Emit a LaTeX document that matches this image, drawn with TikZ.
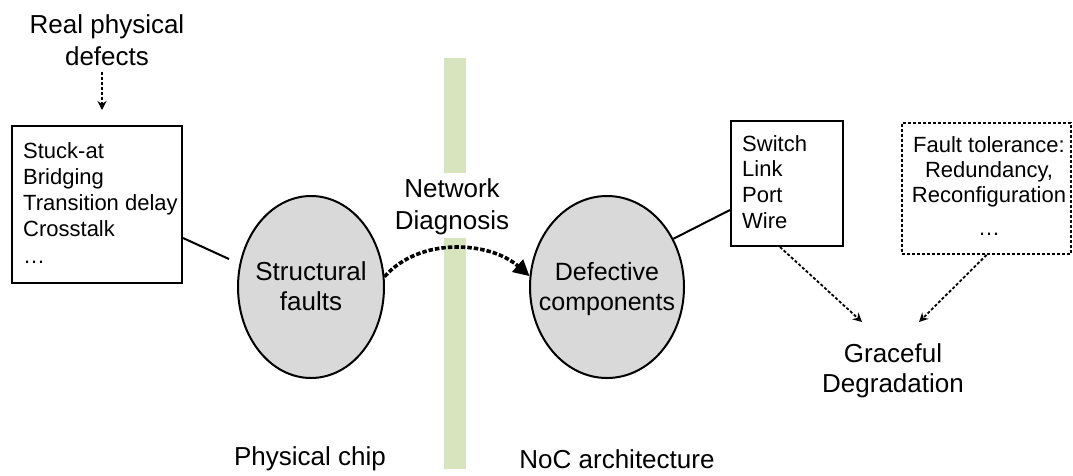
\documentclass[tikz,border=0pt]{standalone}
\usepackage{fontspec}
\setmainfont{Liberation Sans}
\usetikzlibrary{shapes.geometric,arrows.meta,calc}
\definecolor{ellgray}{RGB}{217,217,217}
\definecolor{bargreen}{RGB}{215,228,189}
\begin{document}
\begin{tikzpicture}[x=1pt,y=-1pt,
  bigtext/.style={font=\fontsize{26}{31}\selectfont, align=center, inner sep=0pt},
  boxtext/.style={font=\fontsize{22}{26.25}\selectfont, align=left, inner sep=0pt},
  ell/.style={ellipse, draw, line width=2pt, fill=ellgray, minimum width=146pt, minimum height=182pt, inner sep=0pt},
  boxsolid/.style={draw, line width=2pt, inner sep=0pt},
  boxdash/.style={draw, line width=2pt, dash pattern=on 3pt off 2pt, inner sep=0pt},
  thindot/.style={line width=1.8pt, dash pattern=on 3pt off 2pt, -{Stealth[open,length=9pt,width=9pt]}},
  thickdot/.style={line width=3.6pt, dash pattern=on 4.5pt off 2pt, -{Triangle[length=16pt,width=16pt]}},
  link/.style={line width=2pt}]
\useasboundingbox (0,0) rectangle (1073,475);
% green separator bar
\fill[bargreen] (444,58) rectangle (466,173);
\fill[bargreen] (444,238) rectangle (466,469);
% boxes
\node[boxsolid, minimum width=170pt, minimum height=157pt] (b1) at (97,204.5) {};
\node[boxtext, anchor=west] (b1t) at (23,205.25) {\strut Stuck-at\\\strut Bridging\\\strut Transition delay\\\strut Crosstalk\\\strut …};
\node[boxsolid, minimum width=112pt, minimum height=125pt] (b2) at (787,183.5) {};
\node[boxtext, font=\fontsize{22}{25.67}\selectfont, anchor=west] (b2t) at (742,184.4) {\strut Switch\\\strut Link\\\strut Port\\\strut Wire};
\node[boxdash, minimum width=169pt, minimum height=131pt] (b3) at (986.5,188.5) {};
\node[boxtext, font=\fontsize{22}{25}\selectfont, align=center] (b3t) at (989,188.5) {\strut Fault tolerance:\\\strut Redundancy,\\\strut Reconfiguration\\[8pt]\strut …};
% ellipses
\node[ell] (e1) at (311,287) {};
\node[bigtext, font=\fontsize{26}{30}\selectfont] (e1t) at (311,289) {\strut Structural\\\strut faults};
\node[ell, minimum width=154pt] (e2) at (607,287) {};
\node[bigtext, font=\fontsize{25}{30}\selectfont] (e2t) at (607,289) {\strut Defective\\\strut components};
% labels
\node[bigtext, font=\fontsize{26}{32}\selectfont] (rpd) at (107,42.6) {\strut Real physical\\\strut defects};
\node[bigtext, font=\fontsize{26}{32}\selectfont] (nd) at (452,206.6) {\strut Network\\\strut Diagnosis};
\node[bigtext, font=\fontsize{26}{30}\selectfont] (gd) at (893,371) {\strut Graceful\\\strut Degradation};
\node[bigtext, anchor=base] (pc) at (310,465) {Physical chip};
\node[bigtext, anchor=base] (noc) at (617,468) {NoC architecture};
% connectors
\coordinate (rpdEnd) at (102,110);
\draw[thindot] ([xshift=-5pt,yshift=2.6pt]rpd.south) -- (rpdEnd);
\coordinate (c1) at (229,259);
\draw[link] ([yshift=-33.5pt]b1.east) -- (c1);
\draw[link] ([yshift=-26.5pt]b2.west) -- (e2.36);
\draw[thickdot] (e1.8) .. controls +(35,-40) and +(-40,-35) .. (e2.172);
\coordinate (g1) at (862,322);
\coordinate (g2) at (919,322);
\draw[thindot] ([xshift=-7pt]b2.south) -- (g1);
\draw[thindot] (b3.south) -- (g2);
\end{tikzpicture}
\end{document}
